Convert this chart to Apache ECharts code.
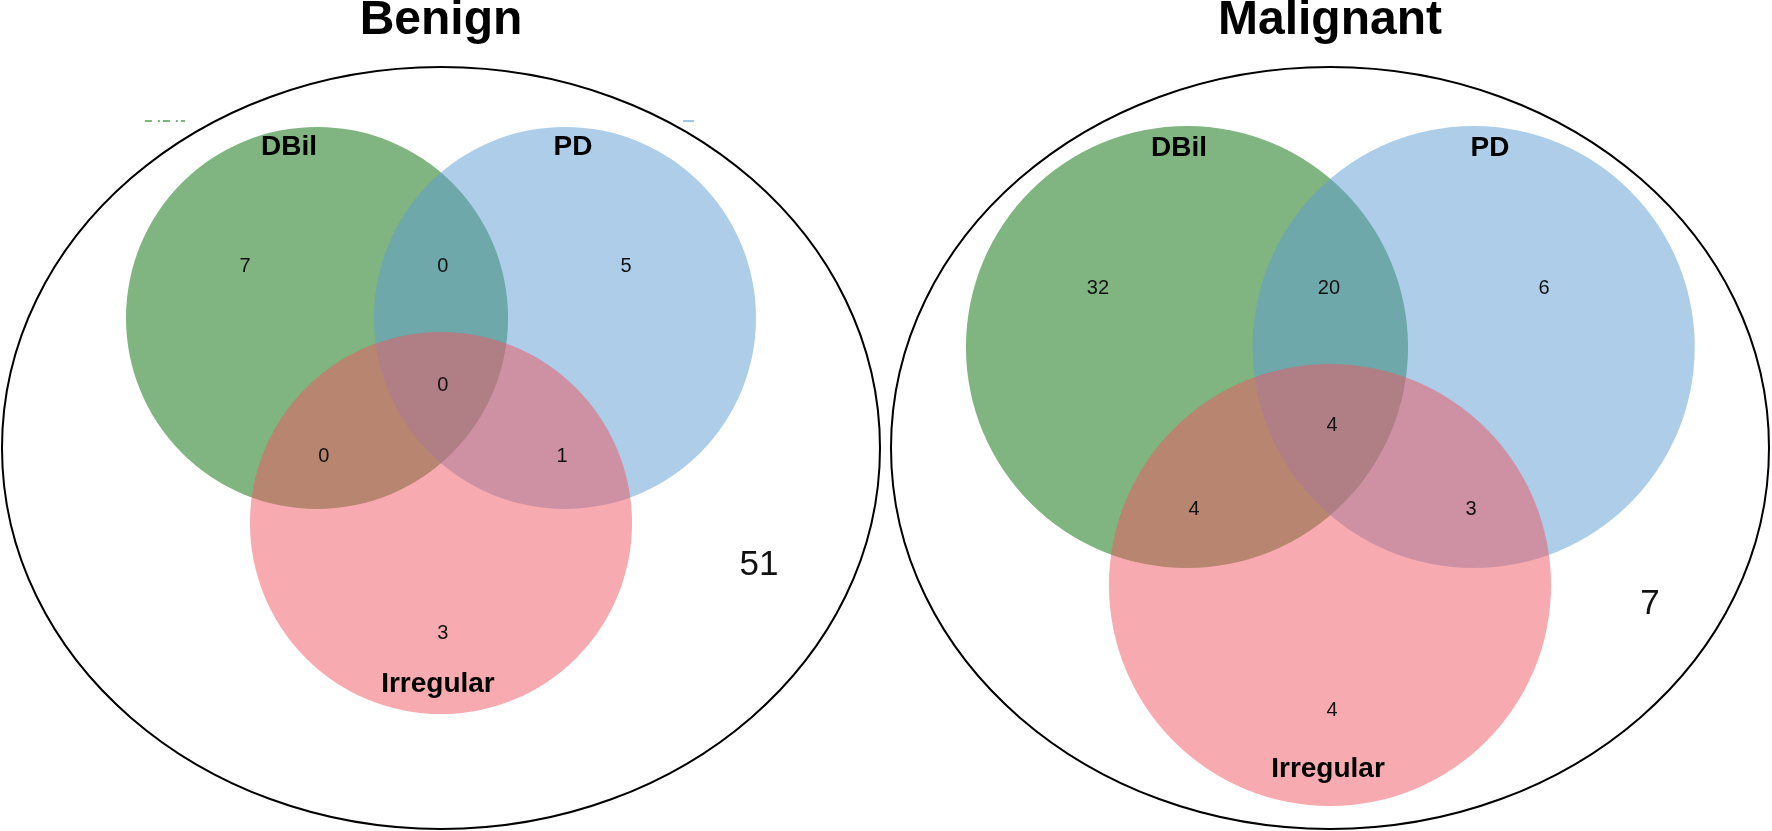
<!DOCTYPE html>
<html>
<head>
<meta charset="utf-8">
<script src="https://cdn.jsdelivr.net/npm/echarts@6/dist/echarts.min.js"></script>
<style>
html,body{margin:0;padding:0;background:#ffffff;}
#chart{width:1772px;height:831px;}
</style>
</head>
<body>
<div id="chart"></div>
<script>
// ---- data ----
const panels = ['Benign', 'Malignant'];
const sets = ['DBil', 'PD', 'Irregular'];
const regions = ['DBil only', 'DBil & PD', 'PD only', 'DBil & PD & Irregular', 'DBil & Irregular', 'PD & Irregular', 'Irregular only', 'None'];
const benignCounts = [7, 0, 5, 0, 0, 1, 3, 51];
const malignantCounts = [32, 20, 6, 4, 4, 3, 4, 7];
const setColors = ['rgba(1,105,1,0.5)', 'rgba(91,155,211,0.5)', 'rgba(239,85,95,0.5)'];

// ---- layout (units = set-circle radius) ----
const layouts = [
  {
    grid: { left: 2, top: 67, width: 878, height: 762 },
    rx: 2.298, ry: 1.995, titleY: -2.236,
    circles: [[-0.649, -0.681], [0.649, -0.681], [0, 0.393]],
    setLabels: [[-0.796, -1.576], [0.691, -1.576], [-0.016, 1.236]],
    regionPos: [[-1.026, -0.948], [0.010, -0.948], [0.969, -0.948], [0.010, -0.325], [-0.613, 0.047], [0.634, 0.047], [0.010, 0.969], [1.665, 0.613]],
    // faint legend remnants seen in the original figure
    remnants: [
      { x0: -1.550, x1: -1.340, y: -1.712, color: 'rgb(125,182,125)', dash: [7, 6, 2, 3] },
      { x0: 1.267, x1: 1.325, y: -1.712, color: 'rgb(160,198,230)', dash: null }
    ]
  },
  {
    grid: { left: 891, top: 67, width: 878, height: 762 },
    rx: 1.986, ry: 1.724, titleY: -1.932,
    circles: [[-0.647, -0.457], [0.650, -0.457], [0, 0.620]],
    setLabels: [[-0.683, -1.357], [0.724, -1.357], [-0.009, 1.452]],
    regionPos: [[-1.050, -0.724], [-0.005, -0.724], [0.968, -0.724], [0.009, -0.100], [-0.615, 0.276], [0.638, 0.276], [0.009, 1.186], [1.448, 0.706]],
    remnants: []
  }
];
const countsByPanel = [benignCounts, malignantCounts];
const FONT = '"Liberation Sans", Arial, Helvetica, sans-serif';

function buildData(pi) {
  const L = layouts[pi];
  const d = [];
  d.push([0, 0, 0, 0]);                       // outer ellipse
  L.remnants.forEach((r, i) => d.push([r.x0, r.y, 5, i]));
  L.circles.forEach((c, i) => d.push([c[0], c[1], 1, i]));
  L.setLabels.forEach((c, i) => d.push([c[0], c[1], 2, i]));
  L.regionPos.forEach((c, i) => d.push([c[0], c[1], 3, i]));
  d.push([0, L.titleY, 4, 0]);                // title
  return d;
}

function makeRender(pi) {
  const L = layouts[pi];
  const counts = countsByPanel[pi];
  return function (params, api) {
    const p = api.coord([api.value(0), api.value(1)]);
    const kind = api.value(2), i = api.value(3);
    const u = api.size([1, 1]);
    if (kind === 0) {
      return { type: 'ellipse', shape: { cx: p[0], cy: p[1], rx: L.rx * u[0], ry: L.ry * u[1] },
        style: { fill: 'none', stroke: '#000000', lineWidth: 2 } };
    }
    if (kind === 1) {
      return { type: 'circle', shape: { cx: p[0], cy: p[1], r: u[0] },
        style: { fill: setColors[i], stroke: 'none' } };
    }
    if (kind === 2) {
      return { type: 'text', x: p[0], y: p[1],
        style: { text: sets[i], fontSize: 28, fontWeight: 'bold', fontFamily: FONT, fill: '#000', align: 'center', verticalAlign: 'middle' } };
    }
    if (kind === 3) {
      const outside = i === regions.length - 1;
      return { type: 'text', x: p[0], y: p[1],
        style: { text: String(counts[i]), fontSize: outside ? 35 : 20, fontFamily: FONT, fill: '#111', align: 'center', verticalAlign: 'middle' } };
    }
    if (kind === 5) {
      const r = L.remnants[i];
      const q = api.coord([r.x1, r.y]);
      return { type: 'line', shape: { x1: p[0], y1: p[1], x2: q[0], y2: q[1] },
        style: { stroke: r.color, lineWidth: 2, lineDash: r.dash } };
    }
    return { type: 'text', x: p[0], y: p[1],
      style: { text: panels[pi], fontSize: 48, fontWeight: 'bold', fontFamily: FONT, fill: '#000', align: 'center', verticalAlign: 'middle' } };
  };
}

const chart = echarts.init(document.getElementById('chart'), null, { renderer: 'canvas' });
const option = {
  backgroundColor: '#ffffff',
  animation: false,
  grid: layouts.map(L => Object.assign({ containLabel: false }, L.grid)),
  xAxis: layouts.map((L, i) => ({ type: 'value', gridIndex: i, min: -L.rx, max: L.rx, show: false })),
  yAxis: layouts.map((L, i) => ({ type: 'value', gridIndex: i, min: -L.ry, max: L.ry, inverse: true, show: false })),
  series: layouts.map((L, i) => ({
    type: 'custom', name: panels[i], xAxisIndex: i, yAxisIndex: i,
    clip: false, silent: true,
    renderItem: makeRender(i),
    data: buildData(i)
  }))
};
chart.setOption(option);
</script>
</body>
</html>
